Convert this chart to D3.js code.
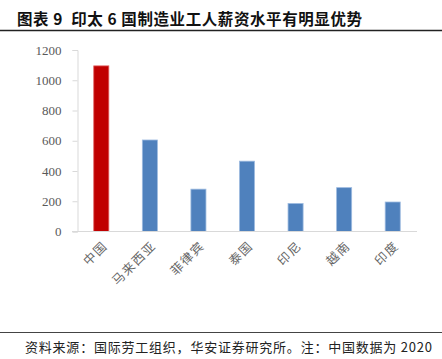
<!DOCTYPE html>
<html>
<head>
<meta charset="utf-8">
<script src="https://cdn.jsdelivr.net/npm/d3@7"></script>
<style>
  body { margin: 0; background: #fff; }
  svg { display: block; }
</style>
</head>
<body>
<div id="graph"></div>
<script>
/* chart data */
const countries = ["中国", "马来西亚", "菲律宾", "泰国", "印尼", "越南", "印度"];
const wages = [1095, 605, 280, 465, 185, 290, 195];
const barColors = ["#C00000", "#4F81BD", "#4F81BD", "#4F81BD", "#4F81BD", "#4F81BD", "#4F81BD"];
const yTicks = [0, 200, 400, 600, 800, 1000, 1200];

const titleText = "图表 9  印太 6 国制造业工人薪资水平有明显优势";
const sourceText = "资料来源：国际劳工组织，华安证券研究所。注：中国数据为 2020";

window.addEventListener("DOMContentLoaded", main)

function main() {
    const W = 442, H = 359;
    const cjk = "'Noto Sans CJK SC', sans-serif";
    const serif = "'Liberation Serif', 'DejaVu Serif', serif";

    const svg = d3.select("#graph").append("svg").attr("width", W).attr("height", H)

    /* title + rules */
    svg.append("text")
        .attr("x", 17).attr("y", 25)
        .style("font-family", cjk)
        .style("font-size", "15.5px")
        .style("font-weight", "bold")
        .style("fill", "#111")
        .style("white-space", "pre")
        .attr("textLength", 345)
        .text(titleText);

    svg.append("line").attr("x1", 0).attr("x2", W).attr("y1", 30.5).attr("y2", 30.5)
        .attr("stroke", "#222").attr("stroke-width", 1.5);
    svg.append("line").attr("x1", 0).attr("x2", W).attr("y1", 332.5).attr("y2", 332.5)
        .attr("stroke", "#444").attr("stroke-width", 1);

    svg.append("text")
        .attr("x", 25).attr("y", 352)
        .style("font-family", cjk)
        .style("font-size", "13px")
        .style("fill", "#222")
        .attr("textLength", 407)
        .text(sourceText);

    /* scales */
    const xScale = d3.scaleBand().domain(countries).range([77, 417]).paddingInner(0.69).paddingOuter(0.345);
    const yScale = d3.scaleLinear().domain([0, 1200]).range([231.5, 50]);

    /* y axis */
    const yAxis = d3.axisLeft(yScale).tickValues(yTicks).tickSize(5).tickPadding(11).tickFormat(d3.format("d"));
    const gy = svg.append("g").attr("transform", "translate(77.5,0)").call(yAxis);
    gy.select(".domain").attr("stroke", "#d9d9d9");
    gy.selectAll(".tick line").attr("stroke", "#d9d9d9");
    gy.selectAll(".tick text")
        .style("font-family", serif)
        .style("font-size", "13px")
        .attr("fill", "#595959");

    /* bars */
    svg.selectAll(".bar")
        .data(countries)
        .enter()
        .append("rect")
        .attr("class", "bar")
        .attr("x", d => xScale(d))
        .attr("width", xScale.bandwidth())
        .attr("y", (d, i) => yScale(wages[i]))
        .attr("height", (d, i) => yScale(0) - yScale(wages[i]))
        .attr("fill", (d, i) => barColors[i])
        .attr("stroke", (d, i) => i == 0 ? "#e06060" : "#9dbbe0")
        .attr("stroke-width", 0.8);

    /* x axis */
    const xAxis = d3.axisBottom(xScale).tickSize(0).tickPadding(0);
    const gx = svg.append("g").attr("transform", "translate(0,231.5)").call(xAxis);
    gx.select(".domain").attr("stroke", "#d9d9d9").attr("d", "M72,0H417");
    gx.selectAll(".tick text")
        .style("font-family", cjk)
        .style("font-size", "12.5px")
        .style("letter-spacing", "1.5px")
        .attr("fill", "#666")
        .attr("text-anchor", "end")
        .attr("dy", 0)
        .attr("transform", "translate(7,15) rotate(-45)");
}
</script>
</body>
</html>
